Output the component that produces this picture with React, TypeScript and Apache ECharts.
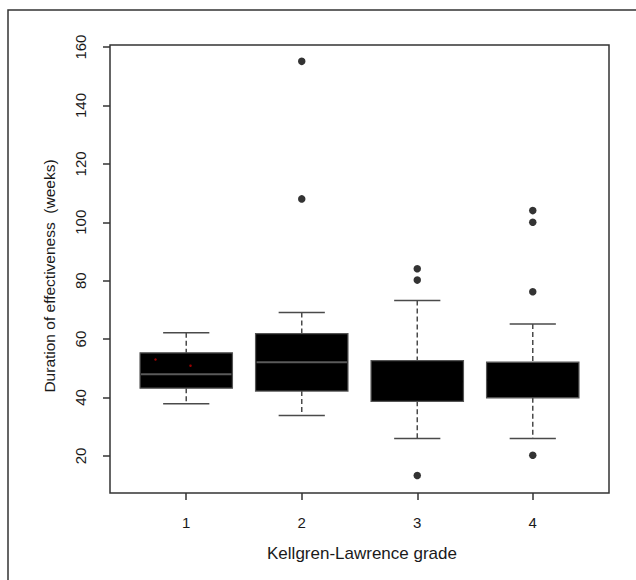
import React, { useEffect, useRef } from "react";
import * as echarts from "echarts";

// ---- data ----
const grades = [1, 2, 3, 4];
const lowerWhisker = [37.9, 33.8, 26.0, 26.0];
const q1 = [43.2, 42.2, 38.7, 39.9];
const median = [48.0, 52.1, 45.5, 46.0];
const q3 = [55.3, 61.9, 52.6, 52.1];
const upperWhisker = [62.2, 69.1, 73.2, 65.2];
const outlierGrade = [2, 2, 3, 3, 3, 4, 4, 4, 4];
const outlierValue = [155.1, 108.0, 84.1, 80.2, 13.3, 104.0, 100.0, 76.2, 20.2];
const redMarkX = [0.734, 1.037];
const redMarkY = [53.0, 50.9];
const yTicks = [20, 40, 60, 80, 100, 120, 140, 160];
const xTicks = [1, 2, 3, 4];
const xTitle = "Kellgren-Lawrence grade";
const yTitle = "Duration of effectiveness  (weeks)";

// style only
const medianColor = ["#5a5a5a", "#5a5a5a", "#000000", "#000000"];

export default function App() {
  const ref = useRef<HTMLDivElement>(null);
  useEffect(() => {
    if (!ref.current) return;
    const chart = echarts.init(ref.current, null, { renderer: "svg" });
    const boxData = grades.map((g, i) => [
      g,
      lowerWhisker[i],
      q1[i],
      median[i],
      q3[i],
      upperWhisker[i],
      i,
    ]);
    const stroke = "#4a4a4a";
    const option: any = {
      animation: false,
      backgroundColor: "#fff",
      grid: {
        left: 110,
        top: 45,
        right: 27,
        bottom: 87,
        show: true,
        borderColor: "#333",
        borderWidth: 1.5,
        backgroundColor: "transparent",
      },
      xAxis: {
        type: "value",
        min: 0.34,
        max: 4.66,
        axisLine: { show: false },
        splitLine: { show: false },
        axisTick: {
          show: true,
          length: 7,
          customValues: xTicks,
          lineStyle: { color: "#333", width: 1.5 },
        },
        axisLabel: {
          customValues: xTicks,
          margin: 22,
          fontFamily: "Liberation Sans",
          fontSize: 15,
          color: "#1a1a1a",
        },
      },
      yAxis: {
        type: "value",
        min: 7.3,
        max: 160.7,
        axisLine: { show: false },
        splitLine: { show: false },
        axisTick: {
          show: true,
          length: 7,
          customValues: yTicks,
          lineStyle: { color: "#333", width: 1.5 },
        },
        axisLabel: {
          customValues: yTicks,
          rotate: 90,
          margin: 22,
          fontFamily: "Liberation Sans",
          fontSize: 15,
          color: "#1a1a1a",
        },
      },
      graphic: [
        {
          type: "rect",
          shape: { x: 8, y: 10, width: 700, height: 700 },
          style: { fill: "none", stroke: "#333", lineWidth: 1.5 },
          silent: true,
        },
        {
          type: "text",
          x: 49,
          y: 276,
          rotation: Math.PI / 2,
          style: {
            text: yTitle,
            fontFamily: "Liberation Sans",
            fontSize: 15.5,
            fill: "#1a1a1a",
            align: "center",
            verticalAlign: "middle",
          },
        },
        {
          type: "text",
          x: 362,
          y: 553,
          style: {
            text: xTitle,
            fontFamily: "Liberation Sans",
            fontSize: 17,
            fill: "#1a1a1a",
            align: "center",
            verticalAlign: "middle",
          },
        },
      ],
      series: [
        {
          type: "custom",
          data: boxData,
          encode: { x: 0, y: [1, 2, 3, 4, 5] },
          renderItem: (params: any, api: any) => {
            const x = api.value(0);
            const idx = api.value(6);
            const lo = api.coord([x, api.value(1)]);
            const b1 = api.coord([x, api.value(2)]);
            const md = api.coord([x, api.value(3)]);
            const b3 = api.coord([x, api.value(4)]);
            const hi = api.coord([x, api.value(5)]);
            const w = api.size([0.8, 0])[0];
            const cx = lo[0];
            const cap = w / 4;
            return {
              type: "group",
              children: [
                {
                  type: "line",
                  shape: { x1: cx, y1: hi[1], x2: cx, y2: b3[1] },
                  style: { stroke, lineWidth: 1.5, lineDash: [5, 3] },
                },
                {
                  type: "line",
                  shape: { x1: cx, y1: b1[1], x2: cx, y2: lo[1] },
                  style: { stroke, lineWidth: 1.5, lineDash: [5, 3] },
                },
                {
                  type: "line",
                  shape: { x1: cx - cap, y1: hi[1], x2: cx + cap, y2: hi[1] },
                  style: { stroke, lineWidth: 1.5 },
                },
                {
                  type: "line",
                  shape: { x1: cx - cap, y1: lo[1], x2: cx + cap, y2: lo[1] },
                  style: { stroke, lineWidth: 1.5 },
                },
                {
                  type: "rect",
                  shape: { x: cx - w / 2, y: b3[1], width: w, height: b1[1] - b3[1] },
                  style: { fill: "#000", stroke: "#555", lineWidth: 1.2 },
                },
                {
                  type: "line",
                  shape: { x1: cx - w / 2 + 1, y1: md[1], x2: cx + w / 2 - 1, y2: md[1] },
                  style: { stroke: medianColor[idx], lineWidth: 2 },
                },
              ],
            };
          },
          z: 2,
        },
        {
          type: "scatter",
          data: outlierGrade.map((g, i) => [g, outlierValue[i]]),
          symbol: "circle",
          symbolSize: 7.5,
          itemStyle: { color: "#000" },
          z: 3,
        },
        {
          type: "scatter",
          data: redMarkX.map((x, i) => [x, redMarkY[i]]),
          symbol: "circle",
          symbolSize: 2.5,
          itemStyle: { color: "#c00000" },
          z: 4,
        },
      ],
    };
    chart.setOption(option);
    return () => chart.dispose();
  }, []);
  return (
    <div
      ref={ref}
      style={{ position: "fixed", left: 0, top: 0, width: 636, height: 580 }}
    />
  );
}
